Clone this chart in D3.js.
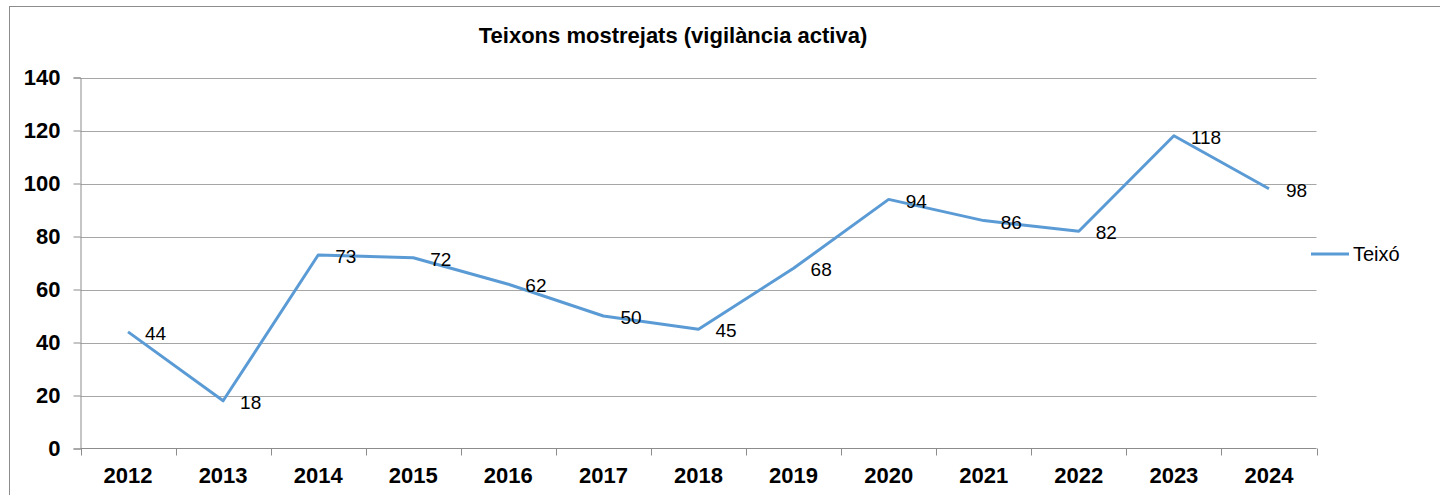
<!DOCTYPE html>
<html>
<head>
<meta charset="utf-8">
<script src="https://cdn.jsdelivr.net/npm/d3@7"></script>
<style>
  html, body { margin: 0; padding: 0; background: #fff; }
  svg { display: block; font-family: "Liberation Sans", Arial, sans-serif; }
</style>
</head>
<body>
<svg id="chart" width="1440" height="495"></svg>
<script>
// Sampled yews per year (active surveillance)
const years = ["2012","2013","2014","2015","2016","2017","2018","2019","2020","2021","2022","2023","2024"];
const teixo = [44, 18, 73, 72, 62, 50, 45, 68, 94, 86, 82, 118, 98];
const yTicks = [0, 20, 40, 60, 80, 100, 120, 140];
const seriesName = "Teixó";
const title = "Teixons mostrejats (vigilància activa)";

const svg = d3.select("#chart");
const plot = { left: 80.5, right: 1316.5, top: 77.5, bottom: 448.5 };
const lineColor = "#5B9BD5";
const gridColor = "#a6a6a6";
const axisColor = "#8c8c8c";

// Outer chart frame
svg.append("rect")
  .attr("x", 9.5).attr("y", 6.5)
  .attr("width", 1460).attr("height", 520)
  .attr("fill", "#fff").attr("stroke", "#8c8c8c").attr("stroke-width", 1);

const x = d3.scaleBand().domain(years).range([plot.left, plot.right]).padding(0);
const y = d3.scaleLinear().domain([0, 140]).range([plot.bottom, plot.top]);

// Horizontal gridlines
svg.append("g").selectAll("line").data(yTicks.filter(t => t > 0)).join("line")
  .attr("x1", plot.left).attr("x2", plot.right)
  .attr("y1", d => Math.round(y(d)) + 0.5).attr("y2", d => Math.round(y(d)) + 0.5)
  .attr("stroke", gridColor).attr("stroke-width", 1);

// Y axis
const yAxis = svg.append("g")
  .attr("transform", `translate(${plot.left},0)`)
  .call(d3.axisLeft(y).tickValues(yTicks).tickSize(7).tickPadding(13).tickFormat(d3.format("d")));
yAxis.select(".domain").attr("stroke", axisColor);
yAxis.selectAll(".tick line").attr("stroke", axisColor);
yAxis.selectAll(".tick text")
  .attr("font-size", 22).attr("font-weight", "bold").attr("fill", "#000")
  .attr("font-family", "Liberation Sans, Arial, sans-serif");

// X axis with ticks on category boundaries
const xAxisG = svg.append("g").attr("transform", `translate(0,${plot.bottom})`);
xAxisG.append("line")
  .attr("x1", plot.left).attr("x2", plot.right).attr("y1", 0).attr("y2", 0)
  .attr("stroke", axisColor);
const bounds = years.map(d => x(d)).concat([x(years[years.length - 1]) + x.bandwidth()]);
xAxisG.selectAll("line.tk").data(bounds).join("line").attr("class", "tk")
  .attr("x1", d => Math.round(d) + 0.5).attr("x2", d => Math.round(d) + 0.5)
  .attr("y1", 0).attr("y2", 7).attr("stroke", axisColor);
xAxisG.selectAll("text").data(years).join("text")
  .attr("x", d => x(d) + x.bandwidth() / 2).attr("y", 34)
  .attr("text-anchor", "middle")
  .attr("font-size", 22).attr("font-weight", "bold").attr("fill", "#000")
  .text(d => d);

// Series line
const pts = years.map((yr, i) => ({ yr, v: teixo[i] }));
const line = d3.line().x(d => x(d.yr) + x.bandwidth() / 2).y(d => y(d.v));
svg.append("path").datum(pts)
  .attr("d", line).attr("fill", "none")
  .attr("stroke", lineColor).attr("stroke-width", 3)
  .attr("stroke-linejoin", "round");

// Value labels to the right of each point
svg.append("g").selectAll("text").data(pts).join("text")
  .attr("x", d => x(d.yr) + x.bandwidth() / 2 + 17)
  .attr("y", d => y(d.v) + 1.5)
  .attr("dy", "0.35em")
  .attr("font-size", 19).attr("fill", "#000")
  .text(d => d.v);

// Title
svg.append("text")
  .attr("x", 673).attr("y", 43)
  .attr("text-anchor", "middle")
  .attr("font-size", 22).attr("font-weight", "bold").attr("fill", "#000")
  .text(title);

// Legend
svg.append("line")
  .attr("x1", 1311).attr("x2", 1349).attr("y1", 254).attr("y2", 254)
  .attr("stroke", lineColor).attr("stroke-width", 3);
svg.append("text")
  .attr("x", 1353).attr("y", 254).attr("dy", "0.35em")
  .attr("font-size", 20).attr("fill", "#000")
  .text(seriesName);
</script>
</body>
</html>
